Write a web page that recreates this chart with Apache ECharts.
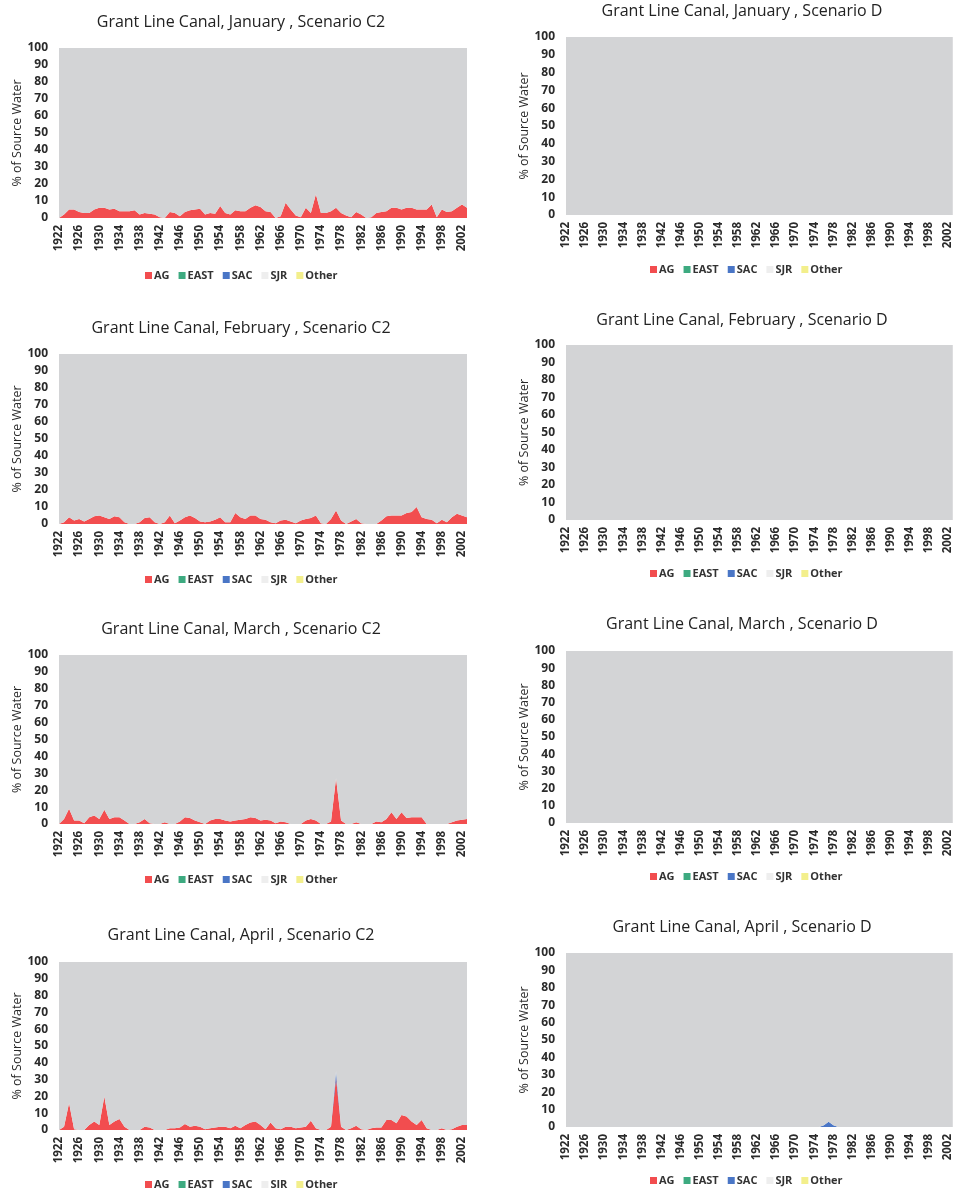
<!DOCTYPE html>
<html><head><meta charset="utf-8">
<script src="https://cdn.jsdelivr.net/npm/echarts@6/dist/echarts.min.js"></script>
<style>html,body{margin:0;padding:0;background:#fff}#c{width:954px;height:1188px}</style>
</head><body><div id="c"></div>
<script>
// ---------- DATA ----------
const years = [1922,1923,1924,1925,1926,1927,1928,1929,1930,1931,
1932,1933,1934,1935,1936,1937,1938,1939,1940,1941,
1942,1943,1944,1945,1946,1947,1948,1949,1950,1951,
1952,1953,1954,1955,1956,1957,1958,1959,1960,1961,
1962,1963,1964,1965,1966,1967,1968,1969,1970,1971,
1972,1973,1974,1975,1976,1977,1978,1979,1980,1981,
1982,1983,1984,1985,1986,1987,1988,1989,1990,1991,
1992,1993,1994,1995,1996,1997,1998,1999,2000,2001,
2002,2003];
const sourceNames = ['AG','EAST','SAC','SJR','Other'];
const months = ['January','February','March','April'];
const yTicks = [0,10,20,30,40,50,60,70,80,90,100];

// shares that are zero in every year
const noShare = [0,0,0,0,0,0,0,0,0,0, 0,0,0,0,0,0,0,0,0,0, 0,0,0,0,0,0,0,0,0,0,
0,0,0,0,0,0,0,0,0,0, 0,0,0,0,0,0,0,0,0,0, 0,0,0,0,0,0,0,0,0,0,
0,0,0,0,0,0,0,0,0,0, 0,0,0,0,0,0,0,0,0,0, 0,0];

// Scenario C2
const AG_C2_Jan = [0,2,5,5,3.5,3,3,5,6,6, 5,5.5,4,4,4,4.5,2,3,2.5,2,
0.5,0,3.5,3,1,3.5,4.5,5,5.5,2, 3,2.5,7,3,2,4.5,4,4,6,7.5,
6.5,4,3.5,0,1,9,5,1.5,0.5,6, 3,14,3,3,4,6,3,1.5,0.5,3.5,
2,0,0.5,3,3.5,4,6,6,5,6, 6,5,5,5,8,0.5,5,3.5,4,6, 8,6];
const SJR_C2_Jan = [100,98,95,95,96.5,97,97,95,94,94, 95,94.5,96,96,96,95.5,98,97,97.5,98,
99.5,100,96.5,97,99,96.5,95.5,95,94.5,98, 97,97.5,93,97,98,95.5,96,96,94,92.5,
93.5,96,96.5,100,99,91,95,98.5,99.5,94, 97,86,97,97,96,94,97,98.5,99.5,96.5,
98,100,99.5,97,96.5,96,94,94,95,94, 94,95,95,95,92,99.5,95,96.5,96,94, 92,94];

const AG_C2_Feb = [0,1,4,2,3,1.5,3,4.5,5,4, 3,4.5,4,1,0,0,1,3.5,4,1,
0,1,5,0.5,2,4,5,3.5,1.5,1, 1.5,2.5,4,1,1,6.5,4,3,5,5,
3,2.5,1,0.5,2,2.5,1.5,0.5,2,3, 3.5,5,0.5,0,3,8,2,0,1.5,3,
0.5,0,0,0,2,4.5,5,5,5,6.5, 7,10,4,3,2.5,0.5,2.5,1,4,6, 5,4];
const SJR_C2_Feb = [100,99,96,98,97,98.5,97,95.5,95,96, 97,95.5,96,99,100,100,99,96.5,96,99,
100,99,95,99.5,98,96,95,96.5,98.5,99, 98.5,97.5,96,99,99,93.5,96,97,95,95,
97,97.5,99,99.5,98,97.5,98.5,99.5,98,97, 96.5,95,99.5,100,97,92,98,100,98.5,97,
99.5,100,100,100,98,95.5,95,95,95,93.5, 93,90,96,97,97.5,99.5,97.5,99,96,94, 95,96];

const AG_C2_Mar = [0,3,9,2,2,0.5,4,5,3,8.5, 3,4,4,2,0,0,1,3,0.5,0,
0,1,0,0,1.5,4,3.5,2,1,0, 2,3,3,2,1.5,2,2.5,3,4,3.5,
2,2.5,2,0.5,1.5,1,0,0,0,2, 3,2,0,0,1.5,27,2,0,0,1,
0,0,0,1.5,1,3,7,3,7,3.5, 4,4,4,0,0,0,0,0,1,2, 2.5,3];
const SJR_C2_Mar = [100,97,91,98,98,99.5,96,95,97,91.5, 97,96,96,98,100,100,99,97,99.5,100,
100,99,100,100,98.5,96,96.5,98,99,100, 98,97,97,98,98.5,98,97.5,97,96,96.5,
98,97.5,98,99.5,98.5,99,100,100,100,98, 97,98,100,100,98.5,73,98,100,100,99,
100,100,100,98.5,99,97,93,97,93,96.5, 96,96,96,100,100,100,100,100,99,98, 97.5,97];

const AG_C2_Apr = [0,2,16,0.5,0,0,3,5,3,20, 3,5,6.5,2,0,0,0,2,1.5,0,
0,0,1,1,1.5,3.5,2,2.5,2,0.5, 1,1.5,2,2,1,2.5,1,3,4.5,5,
3,0.5,4.5,1,0.5,2,2,1,1.5,2, 5.5,1,0,0,2,31,2,0,1,2.5,
0.5,0,1,1.5,1.5,6,6,4,9,8, 5,3,6,1,0,0,1,0,0.5,2, 3,3];
const SAC_C2_Apr = [0,0,0,0,0,0,0,0,0,0, 0,0,0,0,0,0,0,0,0,0, 0,0,0,0,0,0,0,0,0,0,
0,0,0,0,0,0,0,0,0,0, 0,0,0,0,0,0,0,0,0,0, 0,0,0,0,0,4,0,0,0,0,
0,0,0,0,0,0,0,0,0,0, 0,0,0,0,0,0,0,0,0,0, 0,0];
const SJR_C2_Apr = [100,98,84,99.5,100,100,97,95,97,80, 97,95,93.5,98,100,100,100,98,98.5,100,
100,100,99,99,98.5,96.5,98,97.5,98,99.5, 99,98.5,98,98,99,97.5,99,97,95.5,95,
97,99.5,95.5,99,99.5,98,98,99,98.5,98, 94.5,99,100,100,98,65,98,100,99,97.5,
99.5,100,99,98.5,98.5,94,94,96,91,92, 95,97,94,99,100,100,99,100,99.5,98, 97,97];

// Scenario D
const SJR_D_full = [100,100,100,100,100,100,100,100,100,100, 100,100,100,100,100,100,100,100,100,100,
100,100,100,100,100,100,100,100,100,100, 100,100,100,100,100,100,100,100,100,100,
100,100,100,100,100,100,100,100,100,100, 100,100,100,100,100,100,100,100,100,100,
100,100,100,100,100,100,100,100,100,100, 100,100,100,100,100,100,100,100,100,100, 100,100];
const SAC_D_Apr = [0,0,0,0,0,0,0,0,0,0, 0,0,0,0,0,0,0,0,0,0, 0,0,0,0,0,0,0,0,0,0,
0,0,0,0,0,0,0,0,0,0, 0,0,0,0,0,0,0,0,0,0, 0,0,0,0,1,3,1,0,0,0,
0,0,0,0,0,0,0,0,0,0, 0,0,0,0,0,0,0,0,0,0, 0,0];
const SJR_D_Apr = [100,100,100,100,100,100,100,100,100,100, 100,100,100,100,100,100,100,100,100,100,
100,100,100,100,100,100,100,100,100,100, 100,100,100,100,100,100,100,100,100,100,
100,100,100,100,100,100,100,100,100,100, 100,100,100,100,99,97,99,100,100,100,
100,100,100,100,100,100,100,100,100,100, 100,100,100,100,100,100,100,100,100,100, 100,100];

// ---------- CHART ----------
const colors = {AG:'#f24d4f', EAST:'#3daa80', SAC:'#4a76c6', SJR:'#d3d4d6', Other:'#f3ef8c'};
const legendIcon = {AG:'#f24d4f', EAST:'#3daa80', SAC:'#4a76c6', SJR:'#eeeeee', Other:'#f3ef8c'};
const FONT = 'Open Sans';

const panels = [
  {scen:'C2', m:0, data:[AG_C2_Jan,noShare,noShare,SJR_C2_Jan,noShare], col:0, tY:9, gT:48, gH:170, lY:265},
  {scen:'C2', m:1, data:[AG_C2_Feb,noShare,noShare,SJR_C2_Feb,noShare], col:0, tY:315, gT:354, gH:170, lY:569},
  {scen:'C2', m:2, data:[AG_C2_Mar,noShare,noShare,SJR_C2_Mar,noShare], col:0, tY:616, gT:655, gH:169, lY:869},
  {scen:'C2', m:3, data:[AG_C2_Apr,noShare,SAC_C2_Apr,SJR_C2_Apr,noShare], col:0, tY:922, gT:962, gH:168, lY:1174},
  {scen:'D', m:0, data:[noShare,noShare,noShare,SJR_D_full,noShare], col:1, tY:-2, gT:37, gH:178, lY:259},
  {scen:'D', m:1, data:[noShare,noShare,noShare,SJR_D_full,noShare], col:1, tY:307, gT:345, gH:175, lY:563},
  {scen:'D', m:2, data:[noShare,noShare,noShare,SJR_D_full,noShare], col:1, tY:611, gT:651, gH:172, lY:866},
  {scen:'D', m:3, data:[noShare,noShare,SAC_D_Apr,SJR_D_Apr,noShare], col:1, tY:914, gT:953, gH:174, lY:1170}
];
const colGeom = [
  {gL:59, gW:408, tX:236, lX:140},
  {gL:566, gW:388, tX:737, lX:645}
];

const option = {
  backgroundColor:'#ffffff',
  animation:false,
  textStyle:{fontFamily:FONT},
  title:[], legend:[], grid:[], xAxis:[], yAxis:[], series:[]
};

panels.forEach((p, i) => {
  const g = colGeom[p.col];
  option.title.push({
    text:'Grant Line Canal, ' + months[p.m] + ' , Scenario ' + p.scen,
    left:g.tX, top:p.tY, textAlign:'center',
    textStyle:{fontFamily:FONT, fontSize:16, fontWeight:'normal', color:'#222'}
  });
  option.legend.push({
    left:g.lX, top:p.lY, itemWidth:7, itemHeight:7, itemGap:9, icon:'rect',
    data: sourceNames.map(n => ({name:n, itemStyle:{color:legendIcon[n]}})),
    textStyle:{fontFamily:FONT, fontSize:11, fontWeight:'bold', color:'#333', padding:[0,0,0,-3]},
    selectedMode:false
  });
  option.grid.push({left:g.gL, top:p.gT, width:g.gW, height:p.gH});
  option.xAxis.push({
    type:'category', gridIndex:i, data:years, boundaryGap:false,
    axisLine:{show:false}, axisTick:{show:false}, splitLine:{show:false},
    axisLabel:{rotate:90, interval:3, margin:7, fontFamily:FONT, fontSize:11.5, color:'#2a2a2a', fontWeight:'bold'}
  });
  option.yAxis.push({
    type:'value', gridIndex:i, min:yTicks[0], max:yTicks[yTicks.length-1], interval:yTicks[1]-yTicks[0],
    axisLine:{show:false}, axisTick:{show:false}, splitLine:{show:false},
    axisLabel:{margin:11, fontFamily:FONT, fontSize:12, color:'#2a2a2a', fontWeight:'bold'},
    name:'% of Source Water', nameLocation:'middle', nameGap:35,
    nameTextStyle:{fontFamily:FONT, fontSize:12.5, color:'#2a2a2a'}
  });
  sourceNames.forEach((n, k) => {
    option.series.push({
      name:n, type:'line', xAxisIndex:i, yAxisIndex:i, stack:'s'+i,
      data:p.data[k], symbol:'none', silent:true,
      lineStyle:{width:0}, itemStyle:{color:colors[n]},
      areaStyle:{color:colors[n], opacity:1}
    });
  });
});

const chart = echarts.init(document.getElementById('c'), null, {renderer:'canvas'});
chart.setOption(option);
</script>
</body></html>
